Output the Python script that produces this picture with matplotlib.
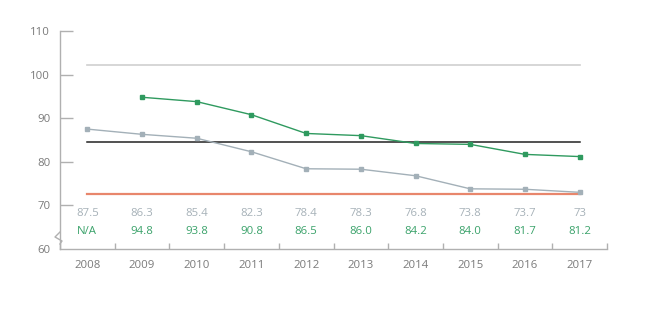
import matplotlib.pyplot as plt
from matplotlib.lines import Line2D
import matplotlib.transforms as mtransforms

plt.rcParams['font.family'] = ['Open Sans', 'DejaVu Sans']

# 数据：
years = ['2008', '2009', '2010', '2011', '2012', '2013', '2014', '2015', '2016', '2017']
gray_values = [87.5, 86.3, 85.4, 82.3, 78.4, 78.3, 76.8, 73.8, 73.7, 73]
green_values = [None, 94.8, 93.8, 90.8, 86.5, 86.0, 84.2, 84.0, 81.7, 81.2]
gray_labels = ['87.5', '86.3', '85.4', '82.3', '78.4', '78.3', '76.8', '73.8', '73.7', '73']
green_labels = ['N/A', '94.8', '93.8', '90.8', '86.5', '86.0', '84.2', '84.0', '81.7', '81.2']
ref_top = 102.2
ref_black = 84.6
ref_orange = 72.5
y_ticks = [60, 70, 80, 90, 100, 110]

c_gray = '#a3b0b8'
c_green = '#2f9a5f'
c_label = '#7a7a7a'
c_axis = '#b0b0b0'

fig = plt.figure(figsize=(6.5, 3.25), dpi=100)
ax = fig.add_axes([60 / 650, 1 - 249 / 325, 547 / 650, 218 / 325])

x = list(range(len(years)))

# 参考线：
ax.plot([x[0], x[-1]], [ref_top, ref_top], color='#cfcfcf', lw=1.2)
ax.plot([x[0], x[-1]], [ref_black, ref_black], color='#222222', lw=1.1)
ax.plot([x[0], x[-1]], [ref_orange, ref_orange], color='#e8866c', lw=1.6)

# 两条折线：
ax.plot(x, gray_values, color=c_gray, lw=1.0, marker='s', ms=2.6, zorder=3)
gx = [xi for xi, v in zip(x, green_values) if v is not None]
gv = [v for v in green_values if v is not None]
ax.plot(gx, gv, color=c_green, lw=1.0, marker='s', ms=2.6, zorder=3)

# 数值标签：
trans = mtransforms.blended_transform_factory(ax.transData, ax.transAxes)
for xi, t in zip(x, gray_labels):
    ax.text(xi, (249 - 214) / 218, t, transform=trans, ha='center', va='center',
            color='#a6b1b8', fontsize=8.2)
for xi, t in zip(x, green_labels):
    ax.text(xi, (249 - 232) / 218, t, transform=trans, ha='center', va='center',
            color='#3aa26a', fontsize=8.2)

ax.set_xlim(-0.5, len(years) - 0.5)
ax.set_ylim(60, 110)

# 坐标轴样式：
for s in ['top', 'right']:
    ax.spines[s].set_visible(False)
for s in ['left', 'bottom']:
    ax.spines[s].set_color(c_axis)
    ax.spines[s].set_linewidth(1.0)

ax.set_yticks(y_ticks)
ax.set_yticklabels([str(v) for v in y_ticks])
ax.tick_params(axis='y', direction='in', length=9.5, width=1.0, color=c_axis,
               labelcolor=c_label, labelsize=8.2, pad=7)
ax.yaxis.get_major_ticks()[0].tick1line.set_visible(False)

ax.set_xticks([i + 0.5 for i in range(-1, len(years))])
ax.set_xticklabels([])
ax.set_xticks(x, minor=True)
ax.set_xticklabels(years, minor=True)
ax.tick_params(axis='x', which='major', direction='in', length=4, width=1.0, color=c_axis)
ax.tick_params(axis='x', which='minor', length=0, labelcolor=c_label, labelsize=8.2, pad=8)

# 坐标轴断裂符号：
px = 1 / 547
py = 1 / 218
brk = Line2D([0, -5 * px, 2 * px, 0],
             [17 * py, 12 * py, 8 * py, 5 * py],
             transform=ax.transAxes, color=c_axis, lw=1.0, clip_on=False)
ax.add_line(brk)

fig.savefig('out.png', dpi=100)
